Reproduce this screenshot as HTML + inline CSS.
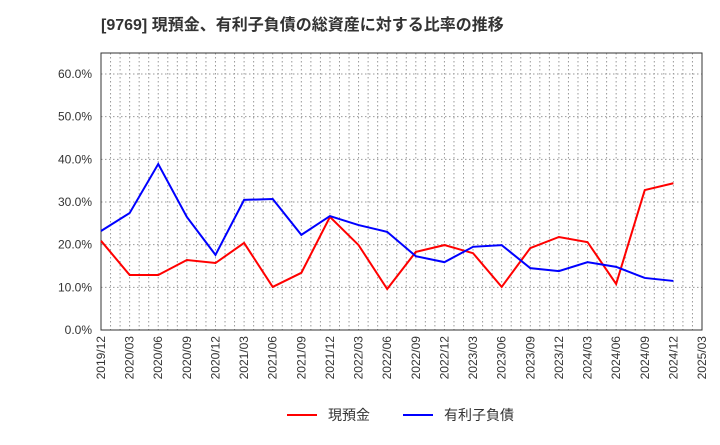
<!DOCTYPE html>
<html><head><meta charset="utf-8"><style>
body{margin:0;background:#fff;}
svg text{font-family:"Liberation Sans","Noto Sans CJK JP",sans-serif;}
</style></head><body>
<svg id="c" width="720" height="440" xmlns="http://www.w3.org/2000/svg">
<text x="101" y="30" font-size="16" font-weight="bold" fill="#333">[9769]  現預金、有利子負債の総資産に対する比率の推移</text>
<g id="grid"></g>
<rect x="101" y="53" width="601" height="277" fill="none" stroke="#333" stroke-width="1"/>
<g id="axes"></g>
<g id="series"></g>
<g>
<line x1="287" y1="415" x2="317" y2="415" stroke="#f00" stroke-width="2"/>
<text x="328" y="420" font-size="14" fill="#333">現預金</text>
<line x1="403" y1="415" x2="433" y2="415" stroke="#00f" stroke-width="2"/>
<text x="444" y="420" font-size="14" fill="#333">有利子負債</text>
</g>
</svg>
<script>
const categories=["2019/12","2020/03","2020/06","2020/09","2020/12","2021/03","2021/06","2021/09","2021/12","2022/03","2022/06","2022/09","2022/12","2023/03","2023/06","2023/09","2023/12","2024/03","2024/06","2024/09","2024/12","2025/03"];
const cash=[20.9,12.9,12.9,16.4,15.7,20.4,10.1,13.4,26.5,19.9,9.6,18.3,19.9,18.0,10.1,19.2,21.8,20.6,10.8,32.8,34.4];
const debt=[23.2,27.4,38.9,26.5,17.6,30.5,30.7,22.3,26.7,24.6,23.0,17.3,15.9,19.5,19.9,14.5,13.8,15.9,14.8,12.2,11.5];
const yTicks=[0,10,20,30,40,50,60];
const x0=101,x1=702,y0=330,yTop=53;
const step=(x1-x0)/(categories.length-1);
const xs=i=>x0+i*step;
const ys=v=>y0-v*(330-74)/60;
const NS="http://www.w3.org/2000/svg";
function mk(t,a,p){const e=document.createElementNS(NS,t);for(const k in a)e.setAttribute(k,a[k]);p.appendChild(e);return e;}
const g=document.getElementById('grid'),ax=document.getElementById('axes'),se=document.getElementById('series');
for(let m=1;m<(categories.length-1)*3;m++){const x=x0+m*step/3;
const l=mk('line',{x1:x,x2:x,y1:yTop,y2:y0,stroke:'#999','stroke-dasharray':'1.5,2.5','stroke-width':1},g);

}
yTicks.forEach(v=>{const y=ys(v);
if(v>0){const l=mk('line',{x1:x0,x2:x1,y1:y,y2:y,stroke:'#999','stroke-dasharray':'1.5,2.5','stroke-width':1},g);

}
const t=mk('text',{x:92,y:y+4,'font-size':12,fill:'#333','text-anchor':'end'},ax);t.textContent=v.toFixed(1)+'%';

});
categories.forEach((c,i)=>{const x=xs(i);
const t=mk('text',{x:0,y:0,'font-size':12,fill:'#333','text-anchor':'end',transform:`translate(${x+4},336) rotate(-90)`},ax);t.textContent=c;

});
function line(d,col,name){const p=mk('polyline',{points:d.map((v,i)=>xs(i)+','+ys(v)).join(' '),fill:'none',stroke:col,'stroke-width':2},se);

}
line(cash,'#f00','cash-line');
line(debt,'#00f','debt-line');
</script>
</body></html>
